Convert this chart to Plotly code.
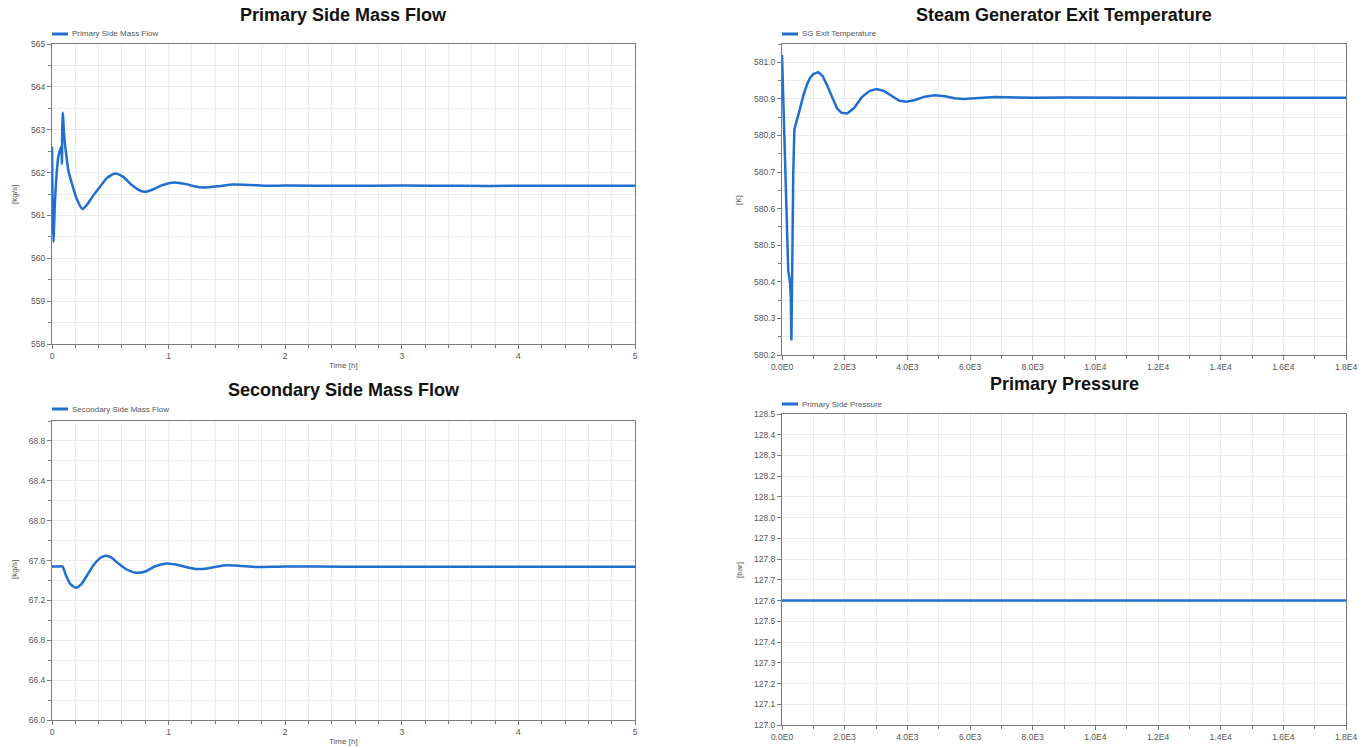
import plotly.graph_objects as go

W, H = 1371, 748

# ---------------- data ----------------
prim_flow_t = [0, 0.005, 0.012, 0.026, 0.04, 0.054, 0.066, 0.074, 0.08, 0.085, 0.09, 0.095, 0.102, 0.11, 0.125, 0.14,
               0.17, 0.21, 0.26, 0.30, 0.35, 0.41, 0.47, 0.54, 0.61, 0.68, 0.74, 0.79, 0.86, 0.94, 1.05, 1.15,
               1.22, 1.30, 1.42, 1.55, 1.70, 1.85, 2.0, 2.5, 3.0, 3.5, 4.0, 4.5, 5.0]
prim_flow_v = [562.6, 561.2, 560.38, 561.36, 561.98, 562.37, 562.5, 562.57, 562.6, 562.2, 563.4, 563.3, 562.95,
               562.7, 562.35, 562.05, 561.75, 561.4, 561.15, 561.25, 561.45, 561.66, 561.87, 561.98, 561.9,
               561.72, 561.6, 561.55, 561.6, 561.7, 561.77, 561.73, 561.68, 561.65, 561.68, 561.72, 561.71,
               561.69, 561.7, 561.69, 561.7, 561.69, 561.69, 561.69, 561.69]

sg_temp_t = [0, 20, 40, 70, 130, 200, 255, 280, 300, 315, 330, 360, 395, 450, 550, 680, 800, 900, 1000, 1160,
             1300, 1450, 1590, 1750, 1900, 2080, 2300, 2550, 2800, 3020, 3250, 3500, 3750, 3980, 4250, 4550,
             4880, 5200, 5500, 5780, 6200, 6800, 7500, 8000, 9000, 10000, 12000, 14000, 16000, 18000]
sg_temp_v = [581.02, 580.96, 580.9, 580.75, 580.57, 580.43, 580.40, 580.36, 580.24, 580.40, 580.57, 580.70,
             580.817, 580.837, 580.865, 580.909, 580.94, 580.958, 580.968, 580.973, 580.962, 580.935, 580.905,
             580.875, 580.862, 580.86, 580.875, 580.905, 580.922, 580.927, 580.922, 580.908, 580.895, 580.892,
             580.897, 580.906, 580.91, 580.907, 580.902, 580.9, 580.902, 580.905, 580.904, 580.903, 580.904,
             580.903, 580.903, 580.903, 580.903, 580.903]

sec_flow_t = [0, 0.05, 0.09, 0.12, 0.16, 0.206, 0.25, 0.30, 0.36, 0.42, 0.463, 0.51, 0.57, 0.64, 0.72, 0.80,
              0.88, 0.98, 1.06, 1.15, 1.24, 1.33, 1.42, 1.50, 1.60, 1.75, 1.9, 2.0, 2.5, 3.0, 3.5, 4.0, 4.5, 5.0]
sec_flow_v = [67.54, 67.54, 67.54, 67.45, 67.36, 67.327, 67.36, 67.45, 67.56, 67.63, 67.648, 67.63, 67.57,
              67.51, 67.478, 67.49, 67.54, 67.571, 67.56, 67.535, 67.515, 67.52, 67.54, 67.552, 67.548, 67.535,
              67.537, 67.54, 67.538, 67.538, 67.538, 67.538, 67.538, 67.538]

pres_t = [0, 18000]
pres_v = [127.6, 127.6]

sec_ticks = [0, 2000, 4000, 6000, 8000, 10000, 12000, 14000, 16000, 18000]
sec_tick_labels = ["0.0E0", "2.0E3", "4.0E3", "6.0E3", "8.0E3", "1.0E4", "1.2E4", "1.4E4", "1.6E4", "1.8E4"]

titles = ["Primary Side Mass Flow", "Steam Generator Exit Temperature",
          "Secondary Side Mass Flow", "Primary Pressure"]
legend_names = ["Primary Side Mass Flow", "SG Exit Temperature",
                "Secondary Side Mass Flow", "Primary Side Pressure"]
y_units = ["[kg/s]", "[K]", "[kg/s]", "[bar]"]
x_title = "Time [h]"

# ---------------- style ----------------
BLUE = "#1f6fd0"
FONT = "Liberation Sans, Arial, sans-serif"
GRID = "#ebebeb"
AXIS = "#7a7a7a"
TICKFONT = dict(family=FONT, size=8.5, color="#555555")


def px_x(px):
    return px / W


def px_y(py):
    return 1 - py / H


# panel pixel boxes (left, right, top, bottom)
boxes = [(52, 635, 44, 344), (782, 1346, 44, 355), (52, 635, 421, 720), (782, 1346, 414, 725)]

fig = go.Figure()
series = [(prim_flow_t, prim_flow_v), (sg_temp_t, sg_temp_v), (sec_flow_t, sec_flow_v), (pres_t, pres_v)]
shapes_line = ["spline", "linear", "spline", "linear"]
for i, (xs, ys) in enumerate(series):
    sfx = "" if i == 0 else str(i + 1)
    fig.add_trace(go.Scatter(x=xs, y=ys, mode="lines",
                             line=dict(color=BLUE, width=2.5, shape=shapes_line[i], smoothing=0.6),
                             xaxis="x" + sfx, yaxis="y" + sfx, name=legend_names[i], showlegend=False))


def xaxis_cfg(i, anchor):
    l, r, t, b = boxes[i]
    base = dict(domain=[px_x(l), px_x(r)], anchor=anchor, showline=True, mirror=True, linecolor=AXIS,
                linewidth=1, ticks="outside", ticklen=4, tickcolor=AXIS, tickfont=TICKFONT,
                showgrid=True, gridcolor=GRID, zeroline=False, automargin=False)
    if i in (0, 2):
        base.update(range=[0, 5], dtick=1, tick0=0,
                    minor=dict(dtick=0.2, ticks="outside", ticklen=3, tickcolor=AXIS, showgrid=True,
                               gridcolor=GRID))
    else:
        base.update(range=[0, 18000], tickvals=sec_ticks, ticktext=sec_tick_labels,
                    minor=dict(dtick=1000, tick0=0, ticks="outside", ticklen=3, tickcolor=AXIS,
                               showgrid=True, gridcolor=GRID))
    return base


def yaxis_cfg(i, anchor, rng, dtick, minor, fmt):
    l, r, t, b = boxes[i]
    base = dict(domain=[px_y(b), px_y(t)], anchor=anchor, range=rng, dtick=dtick, tick0=rng[0],
                showline=True, mirror=True, linecolor=AXIS, linewidth=1, ticks="outside", ticklen=4,
                tickcolor=AXIS, tickfont=TICKFONT, showgrid=True, gridcolor=GRID, zeroline=False,
                tickformat=fmt, automargin=False)
    if minor:
        base["minor"] = dict(dtick=minor, ticks="outside", ticklen=3, tickcolor=AXIS, showgrid=True,
                             gridcolor=GRID)
    return base


fig.update_layout(
    width=W, height=H, autosize=False, margin=dict(l=0, r=0, t=0, b=0, pad=0, autoexpand=False),
    paper_bgcolor="white", plot_bgcolor="white", font=dict(family=FONT),
    xaxis=xaxis_cfg(0, "y"), yaxis=yaxis_cfg(0, "x", [558, 565], 1, 0.5, "d"),
    xaxis2=xaxis_cfg(1, "y2"), yaxis2=yaxis_cfg(1, "x2", [580.2, 581.05], 0.1, 0.05, ".1f"),
    xaxis3=xaxis_cfg(2, "y3"), yaxis3=yaxis_cfg(2, "x3", [66.0, 69.0], 0.4, 0.2, ".1f"),
    xaxis4=xaxis_cfg(3, "y4"), yaxis4=yaxis_cfg(3, "x4", [127.0, 128.5], 0.1, None, ".1f"),
)

annotations = []
shapes = []
title_y = [15, 15, 390, 384]
legend_y = [34, 34, 409, 404]
unit_pos = [(14, 195), (739, 200), (14, 570), (739, 570)]
for i in range(4):
    l, r, t, b = boxes[i]
    cx = (l + r) / 2
    annotations.append(dict(text="<b>" + titles[i] + "</b>", x=px_x(cx), y=px_y(title_y[i]), xref="paper",
                            yref="paper", showarrow=False, xanchor="center", yanchor="middle",
                            font=dict(family=FONT, size=18, color="#111111")))
    shapes.append(dict(type="line", xref="paper", yref="paper", x0=px_x(l), x1=px_x(l + 16),
                       y0=px_y(legend_y[i]), y1=px_y(legend_y[i]), line=dict(color=BLUE, width=3)))
    annotations.append(dict(text=legend_names[i], x=px_x(l + 18), y=px_y(legend_y[i]), xref="paper",
                            yref="paper", showarrow=False, xanchor="left", yanchor="middle",
                            font=dict(family=FONT, size=8, color="#555555")))
    ux, uy = unit_pos[i]
    annotations.append(dict(text=y_units[i], x=px_x(ux), y=px_y(uy), xref="paper", yref="paper",
                            showarrow=False, textangle=-90, xanchor="center", yanchor="middle",
                            font=dict(family=FONT, size=8, color="#555555")))

for yy in (365, 741):
    annotations.append(dict(text=x_title, x=px_x(343.5), y=px_y(yy), xref="paper", yref="paper",
                            showarrow=False, xanchor="center", yanchor="middle",
                            font=dict(family=FONT, size=8, color="#555555")))

fig.update_layout(annotations=annotations, shapes=shapes)
fig.write_html("out.html", config={"displayModeBar": False},
               post_script="document.body.style.margin='0';document.body.style.overflow='hidden';")
